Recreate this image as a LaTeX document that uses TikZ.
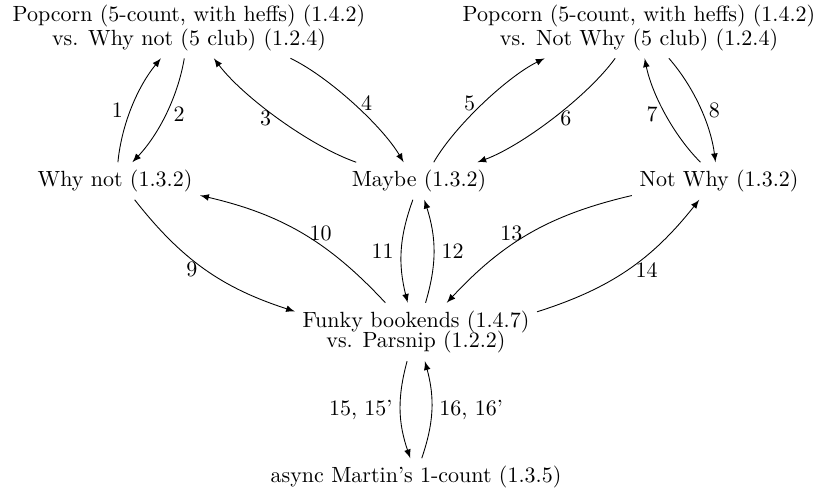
\documentclass[tikz,border=0pt]{standalone}
\begin{document}
\begin{tikzpicture}[x=0.4545pt, y=0.4545pt, >=latex,
  state/.style={align=center, inner sep=3.33pt},
  flow/.style={->},
  flat/.style={looseness=0.85},
  flatter/.style={looseness=0.7}]
\useasboundingbox (0,0) rectangle (825,496);

% states
\node[state] (p1) at (189,468) {Popcorn (5-count, with heffs) (1.4.2)\\[-1.5pt]vs. Why not (5 club) (1.2.4)};
\node[state] (p2) at (639,468) {Popcorn (5-count, with heffs) (1.4.2)\\[-1.5pt]vs. Not Why (5 club) (1.2.4)};
\node[state] (wn) at (115,315) {Why not (1.3.2)};
\node[state] (mb) at (419,315) {Maybe (1.3.2)};
\node[state] (nw) at (719,315) {Not Why (1.3.2)};
\node[state] (fb) at (416,164) {Funky bookends (1.4.7)\\[-2.5pt]vs. Parsnip (1.2.2)};
\node[state] (am) at (416,19) {async Martin's 1-count (1.3.5)};

% upper transitions
\draw[flow] (wn) to[bend left=17, flat] node[left, pos=0.47] {1} (p1);
\draw[flow] (p1) to[bend left=17, flat] node[right] {2} (wn);
\draw[flow] (mb) to[bend left=17, flatter] node[left] {3} (p1);
\draw[flow] (p1) to[bend left=17, flatter] node[right] {4} (mb);
\draw[flow] (mb) to[bend left=17, flatter] node[left] {5} (p2);
\draw[flow] (p2) to[bend left=17, flatter] node[right] {6} (mb);
\draw[flow] (nw) to[bend left=17, looseness=0.8] node[left] {7} (p2);
\draw[flow] (p2) to[bend left=17, flat] node[right, pos=0.53] {8} (nw);

% lower transitions
\draw[flow] (wn) to[bend right=17] node[left] {9} (fb);
\draw[flow] (fb) to[bend right=17] node[right] {10} (wn);
\draw[flow] (mb) to[bend right=17] node[left] {11} (fb);
\draw[flow] (fb) to[bend right=17] node[right] {12} (mb);
\draw[flow] (nw) to[bend right=17] node[left] {13} (fb);
\draw[flow] (fb) to[bend right=17] node[right] {14} (nw);
\draw[flow] (fb) to[bend right=17] node[left] {15, 15'} (am);
\draw[flow] (am) to[bend right=17] node[right] {16, 16'} (fb);
\end{tikzpicture}
\end{document}
